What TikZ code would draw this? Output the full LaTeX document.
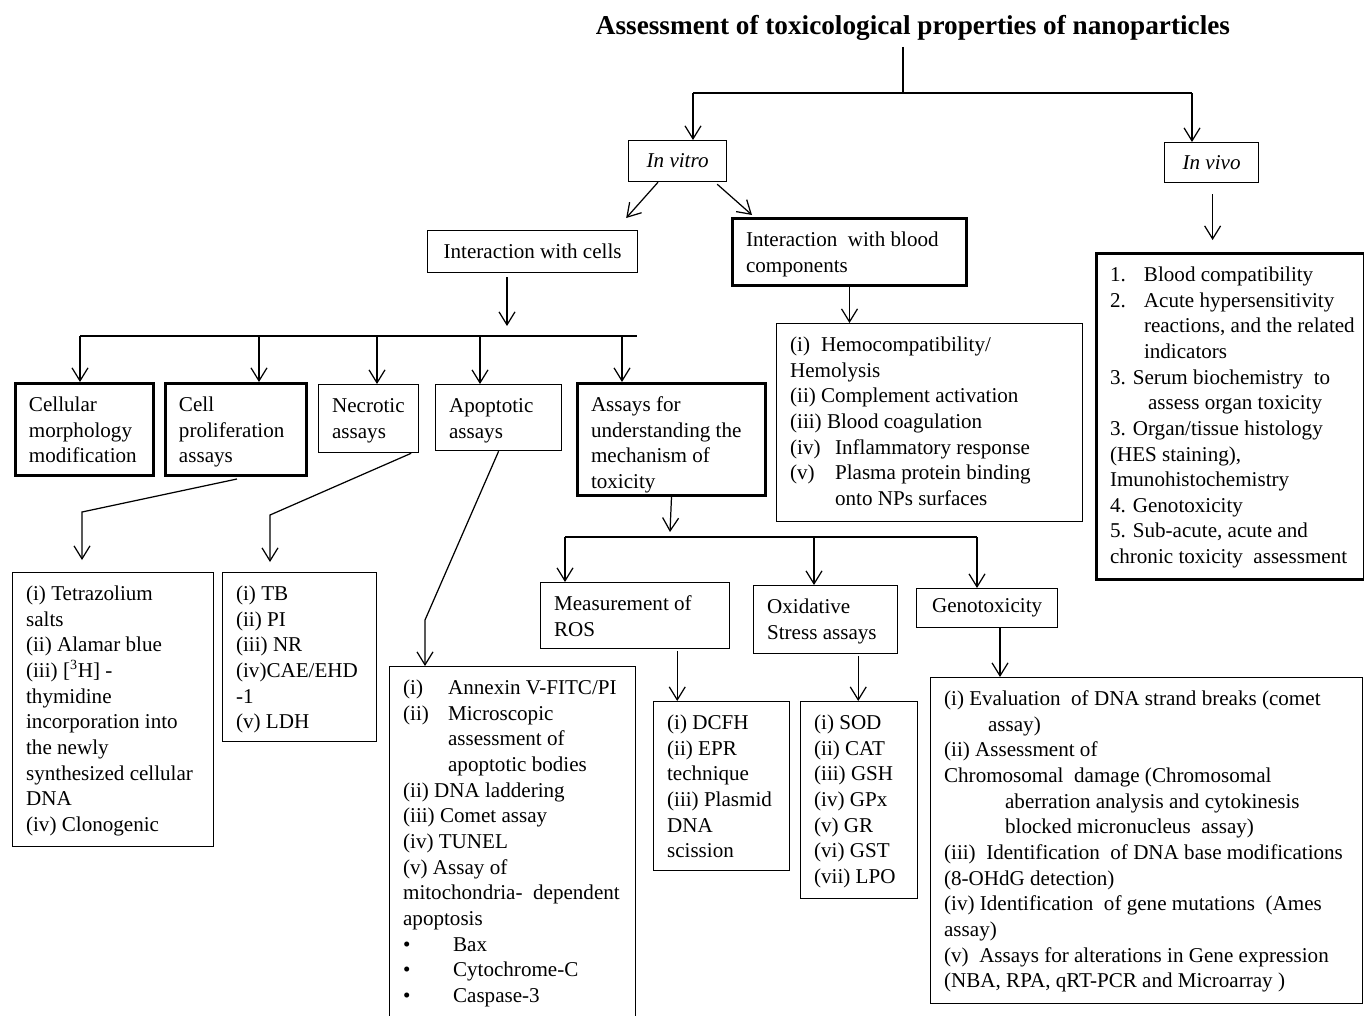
\documentclass[tikz,border=0pt]{standalone}
\usepackage{fontspec}
\setmainfont{Liberation Serif}
\usetikzlibrary{arrows.meta,calc}
\newcommand{\bodyfont}{\fontsize{12pt}{14.6pt}\selectfont}
% box of given size (px) with its lines set at the top left
\newcommand{\boxtxt}[3]{\parbox[c][\dimexpr0.02cm*#2-0.4cm\relax][t]{\dimexpr0.02cm*#1-0.54cm\relax}{\begin{tabular}[t]{@{}l@{}}#3\end{tabular}}}
\newcommand{\itm}[2]{\makebox[#1][l]{#2}}

\begin{document}
\begin{tikzpicture}[x=0.02cm, y=-0.02cm,
	>={Straight Barb[length=2.6mm,width=3.2mm]},
	thinbox/.style={draw, line width=0.7pt, anchor=north west, inner xsep=0.27cm, inner ysep=0.2cm, font=\bodyfont},
	thickbox/.style={thinbox, line width=1.7pt},
	conn/.style={line width=0.7pt}]
	\useasboundingbox (0,0) rectangle (1364,1015);

	\node [font=\fontsize{15.5pt}{18pt}\selectfont\bfseries] (title) at (913,28) {Assessment of toxicological properties of nanoparticles};

	\node [thinbox, minimum width=1.96cm, minimum height=0.82cm, font=\bodyfont\itshape] (invitro) at (628,140) {In vitro};
	\node [thinbox, minimum width=1.88cm, minimum height=0.8cm, font=\bodyfont\itshape] (invivo) at (1164,142) {In vivo};
	\node [thinbox, minimum width=4.2cm, minimum height=0.84cm] (cells) at (427,230) {Interaction with cells};
	\node [thickbox] (blood) at (731,217) {\boxtxt{234}{67}{Interaction\ \ with blood\\components}};

	\node [thickbox] (morph) at (14,382) {\boxtxt{138}{92}{Cellular\\morphology\\modification}};
	\node [thickbox] (prolif) at (164,382) {\boxtxt{141}{92}{Cell\\proliferation\\assays}};
	\node [thinbox] (necro) at (318,384) {\boxtxt{100}{68}{Necrotic\\assays}};
	\node [thinbox] (apop) at (435,384) {\boxtxt{126}{66}{Apoptotic\\assays}};
	\node [thickbox] (mech) at (576,382) {\boxtxt{188}{112}{Assays for\\understanding the\\mechanism of\\toxicity}};

	\node [thinbox] (bloodlist) at (776,323) {\boxtxt{306}{198}{%
		\itm{0.62cm}{(i)}Hemocompatibility/\\
		Hemolysis\\
		(ii) Complement activation\\
		(iii) Blood coagulation\\
		\itm{0.9cm}{(iv)}Inflammatory response\\
		\itm{0.9cm}{(v)}Plasma protein binding\\
		\hspace{0.9cm}onto NPs surfaces}};

	\node [thickbox] (vivolist) at (1095,252) {\boxtxt{268}{326}{%
		\itm{0.68cm}{1.}Blood compatibility\\
		\itm{0.68cm}{2.}Acute hypersensitivity\\
		\hspace{0.68cm}reactions, and the related\\
		\hspace{0.68cm}indicators\\
		3. Serum biochemistry\ \ to\\
		\hspace{0.76cm}assess organ toxicity\\
		3. Organ/tissue histology\\
		(HES staining),\\
		Imunohistochemistry\\
		4. Genotoxicity\\
		5. Sub-acute, acute and\\
		chronic toxicity\ \ assessment}};

	\node [thinbox] (tetra) at (12,572) {\boxtxt{201}{274}{%
		(i) Tetrazolium\\
		salts\\
		(ii) Alamar blue\\
		(iii) [\textsuperscript{3}H] -\\
		thymidine\\
		incorporation into\\
		the newly\\
		synthesized cellular\\
		DNA\\
		(iv) Clonogenic}};
	\node [thinbox] (tbbox) at (222,572) {\boxtxt{154}{169}{(i) TB\\(ii) PI\\(iii) NR\\(iv)CAE/EHD\\-1\\(v) LDH}};
	\node [thinbox] (annexin) at (389,666) {\boxtxt{246}{362}{%
		\itm{0.9cm}{(i)}Annexin V-FITC/PI\\
		\itm{0.9cm}{(ii)}Microscopic\\
		\hspace{0.9cm}assessment of\\
		\hspace{0.9cm}apoptotic bodies\\
		(ii) DNA laddering\\
		(iii) Comet assay\\
		(iv) TUNEL\\
		(v) Assay of\\
		mitochondria-\ \ dependent\\
		apoptosis\\
		\itm{1cm}{\textbullet}Bax\\
		\itm{1cm}{\textbullet}Cytochrome-C\\
		\itm{1cm}{\textbullet}Caspase-3}};

	\node [thinbox] (ros) at (540,582) {\boxtxt{189}{66}{Measurement of\\ROS}};
	\node [thinbox] (oxid) at (753,585) {\boxtxt{144}{68}{Oxidative\\Stress assays}};
	\node [thinbox, minimum width=2.82cm, minimum height=0.78cm] (geno) at (916,588) {Genotoxicity};

	\node [thinbox] (dcfh) at (653,701) {\boxtxt{136}{169}{(i) DCFH\\(ii) EPR\\technique\\(iii) Plasmid\\DNA\\scission}};
	\node [thinbox] (sod) at (800,701) {\boxtxt{117}{197}{(i) SOD\\(ii) CAT\\(iii) GSH\\(iv) GPx\\(v) GR\\(vi) GST\\(vii) LPO}};
	\node [thinbox] (genolist) at (930,677) {\boxtxt{432}{326}{%
		(i) Evaluation\ \ of DNA strand breaks (comet\\
		\hspace{0.88cm}assay)\\
		(ii) Assessment of\\
		Chromosomal\ \ damage (Chromosomal\\
		\hspace{1.22cm}aberration analysis and cytokinesis\\
		\hspace{1.22cm}blocked micronucleus\ \ assay)\\
		(iii)\ \ Identification\ \ of DNA base modifications\\
		(8-OHdG detection)\\
		(iv) Identification\ \ of gene mutations\ \ (Ames\\
		assay)\\
		(v)\ \ Assays for alterations in Gene expression\\
		(NBA, RPA, qRT-PCR and Microarray )}};

	% top split
	\coordinate (top) at (903,93);
	\coordinate (lt) at (693,93);
	\coordinate (rt) at (1192,93);
	\draw [conn] (title.south -| top) -- (top);
	\draw [conn] (lt) -- (rt);
	\draw [conn, ->] (lt) -- (lt |- invitro.north);
	\draw [conn, ->] (rt) -- (rt |- invivo.north);
	\draw [conn, ->] ($(invitro.south west)+(30,0)$) -- ($(cells.north east)+(-12,-12)$);
	\draw [conn, ->] ($(invitro.south east)+(-10,2)$) -- ($(blood.north west)+(21,-2)$);
	\draw [conn, ->] ($(invivo.south)+(1,11)$) -- ($(invivo.south |- vivolist.north)+(1,-12)$);
	\draw [conn, ->] (blood.south) -- (blood.south |- bloodlist.north);

	% cells branch
	\coordinate (cbar) at (507,336);
	\draw [conn, ->] ($(cells.south -| cbar)+(0,4)$) -- ($(cbar)+(0,-10)$);
	\draw [conn] (80,336) -- (637,336);
	\foreach \x/\n in {80/morph, 259/prolif, 377/necro, 480/apop, 622/mech}
		\draw [conn, ->] (\x,336) -- (\x,336 |- \n.north);

	\coordinate (k1) at (82,512);
	\coordinate (k2) at (270,515);
	\coordinate (k3) at (425,620);
	\draw [conn, ->] ($(prolif.south)+(1,2)$) -- (k1) -- ($(k1 |- tetra.north)+(0,-12)$);
	\draw [conn, ->] ($(necro.south east)+(-8,0)$) -- (k2) -- ($(k2 |- tbbox.north)+(0,-10)$);
	\draw [conn, ->] (apop.south) -- (k3) -- (k3 |- annexin.north);

	% mechanism branch
	\coordinate (mbar) at (670,537);
	\draw [conn, ->] (mech.south) -- ($(mbar)+(0,-5)$);
	\draw [conn] (565,537) -- (977,537);
	\foreach \x/\n in {565/ros, 814/oxid, 977/geno}
		\draw [conn, ->] (\x,537) -- (\x,537 |- \n.north);
	\coordinate (r1) at ($(ros.south east)+(-53,2)$);
	\coordinate (r2) at ($(oxid.south east)+(-40,2)$);
	\coordinate (r3) at ($(geno.south west)+(84,0)$);
	\draw [conn, ->] (r1) -- (r1 |- dcfh.north);
	\draw [conn, ->] (r2) -- (r2 |- sod.north);
	\draw [conn, ->] (r3) -- (r3 |- genolist.north);
\end{tikzpicture}
\end{document}
